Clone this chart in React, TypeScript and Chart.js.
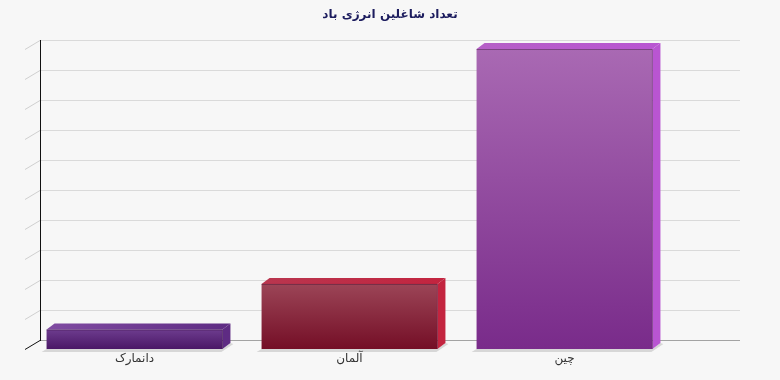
import React, { useEffect, useRef } from "react";
import { Chart, registerables } from "chart.js";

Chart.register(...registerables);

const titleText = "تعداد شاغلین انرژی باد";
const categories = ["دانمارک", "آلمان", "چین"];
const employees = [32500, 108500, 500000];
const yMin = 0;
const yMax = 500000;
const yStep = 50000;

const frontTop = ["#6d3c8e", "#9c4557", "#a969b3"];
const frontBottom = ["#4a1766", "#740e26", "#792b8a"];
const topFace = ["#804ca2", "#b9364f", "#b560c6"];
const sideFace = ["#5e2b83", "#c3243f", "#b955d2"];

const WALL_DX = 15;
const WALL_DY = 9;
const BAR_DX = 8;
const BAR_DY = 6;

const threeD = {
  id: "threeD",
  beforeDraw(chart: any) {
    const { ctx, width, height } = chart;
    ctx.save();
    ctx.fillStyle = "#f7f7f7";
    ctx.fillRect(0, 0, width, height);
    ctx.restore();
  },
  beforeDatasetsDraw(chart: any) {
    const { ctx, chartArea: ca, scales } = chart;
    const y = scales.y;
    const frontX = ca.left - 2;
    const backX = frontX + WALL_DX;
    const rightX = ca.right + 68;
    ctx.save();
    ctx.lineWidth = 1;
    y.ticks.forEach((t: any) => {
      const yf = Math.round(y.getPixelForValue(t.value));
      const yb = yf - WALL_DY;
      const isFloor = t.value === yMin;
      ctx.strokeStyle = isFloor ? "#a3a3a3" : "#dadada";
      ctx.beginPath();
      ctx.moveTo(backX, yb + 0.5);
      ctx.lineTo(rightX, yb + 0.5);
      ctx.stroke();
      ctx.strokeStyle = isFloor ? "#111111" : "#d0d0d0";
      ctx.beginPath();
      ctx.moveTo(backX, yb + 0.5);
      ctx.lineTo(frontX, yf + 0.5);
      ctx.stroke();
    });
    const yTop = Math.round(y.getPixelForValue(yMax)) - WALL_DY;
    const yBot = Math.round(y.getPixelForValue(yMin)) - WALL_DY;
    ctx.strokeStyle = "#111111";
    ctx.beginPath();
    ctx.moveTo(backX + 0.5, yTop);
    ctx.lineTo(backX + 0.5, yBot + 1);
    ctx.stroke();

    // shadows
    const meta = chart.getDatasetMeta(0);
    ctx.fillStyle = "rgba(0,0,0,0.13)";
    meta.data.forEach((bar: any) => {
      const L = bar.x - bar.width / 2;
      const R = bar.x + bar.width / 2;
      const b = bar.base;
      ctx.beginPath();
      ctx.moveTo(L, b);
      ctx.lineTo(L - 5, b + 3);
      ctx.lineTo(R - 1, b + 3);
      ctx.lineTo(R + BAR_DX + 3, b - BAR_DY + 1);
      ctx.lineTo(R + BAR_DX, b - BAR_DY);
      ctx.lineTo(R, b);
      ctx.closePath();
      ctx.fill();
    });
    ctx.restore();
  },
  afterDatasetsDraw(chart: any) {
    const { ctx } = chart;
    const meta = chart.getDatasetMeta(0);
    ctx.save();
    meta.data.forEach((bar: any, i: number) => {
      const L = bar.x - bar.width / 2;
      const R = bar.x + bar.width / 2;
      const t = bar.y;
      const b = bar.base;
      const tg = ctx.createLinearGradient(L, 0, R + BAR_DX, 0);
      tg.addColorStop(0, topFace[i]);
      tg.addColorStop(1, sideFace[i]);
      ctx.fillStyle = tg;
      ctx.beginPath();
      ctx.moveTo(L, t);
      ctx.lineTo(L + BAR_DX, t - BAR_DY);
      ctx.lineTo(R + BAR_DX, t - BAR_DY);
      ctx.lineTo(R, t);
      ctx.closePath();
      ctx.fill();
      ctx.fillStyle = sideFace[i];
      ctx.beginPath();
      ctx.moveTo(R, t);
      ctx.lineTo(R + BAR_DX, t - BAR_DY);
      ctx.lineTo(R + BAR_DX, b - BAR_DY);
      ctx.lineTo(R, b);
      ctx.closePath();
      ctx.fill();
      ctx.strokeStyle = "rgba(40,0,40,0.35)";
      ctx.lineWidth = 1;
      ctx.beginPath();
      ctx.moveTo(L, t + 0.5);
      ctx.lineTo(R, t + 0.5);
      ctx.lineTo(R, b);
      ctx.stroke();
    });
    ctx.restore();
  },
};

export default function App() {
  const ref = useRef<HTMLCanvasElement>(null);
  useEffect(() => {
    document.body.style.margin = "0";
    const chart = new Chart(ref.current!, {
      type: "bar",
      data: {
        labels: categories,
        datasets: [
          {
            data: employees,
            borderWidth: 0,
            barPercentage: 0.818,
            categoryPercentage: 1,
            backgroundColor: (c: any) => {
              const ch = c.chart;
              const i = c.dataIndex;
              if (!ch.chartArea) return frontBottom[i];
              const ys = ch.scales.y;
              const top = ys.getPixelForValue(employees[i]);
              const base = ys.getPixelForValue(yMin);
              const g = ch.ctx.createLinearGradient(0, top, 0, base);
              g.addColorStop(0, frontTop[i]);
              g.addColorStop(1, frontBottom[i]);
              return g;
            },
          },
        ],
      },
      options: {
        responsive: false,
        animation: false,
        layout: { padding: 0 },
        plugins: {
          legend: { display: false },
          tooltip: { enabled: false },
          title: {
            display: true,
            text: titleText,
            color: "#1c1c5e",
            font: { family: "DejaVu Sans", size: 12, weight: "bold", lineHeight: 1.2 },
            padding: { top: 8, bottom: 26.6 },
          },
        },
        scales: {
          x: {
            grid: { display: false, drawTicks: false },
            border: { display: false },
            ticks: {
              color: "#333333",
              padding: 3,
              font: { family: "DejaVu Sans", size: 12 },
            },
            afterFit: (s: any) => {
              s.height = 31;
            },
          },
          y: {
            display: true,
            position: "left",
            min: yMin,
            max: yMax,
            ticks: { stepSize: yStep, display: false },
            grid: { display: false, drawTicks: false },
            border: { display: false },
            afterFit: (s: any) => {
              s.width = 27;
            },
          },
          yRight: {
            type: "linear",
            display: true,
            position: "right",
            min: yMin,
            max: yMax,
            ticks: { display: false },
            grid: { display: false, drawTicks: false },
            border: { display: false },
            afterFit: (s: any) => {
              s.width = 108;
            },
          },
        },
      },
      plugins: [threeD],
    });
    return () => chart.destroy();
  }, []);
  return (
    <div style={{ width: 780, height: 380 }}>
      <canvas ref={ref} width={780} height={380} />
    </div>
  );
}
